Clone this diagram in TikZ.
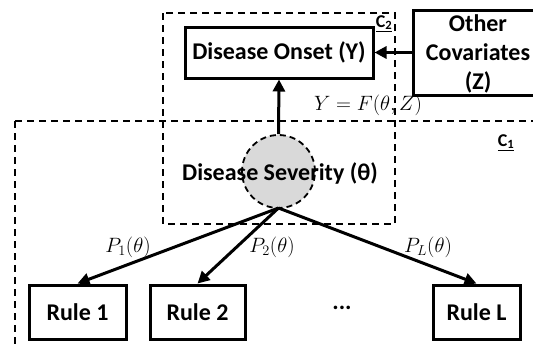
\documentclass[tikz,border=0pt]{standalone}
\usepackage{fontspec}
\setmainfont{Carlito}
\usetikzlibrary{arrows.meta}
\begin{document}
\begin{tikzpicture}[x=1pt,y=-1pt,
  every node/.style={font=\bfseries\fontsize{24}{28}\selectfont},
  box/.style={draw, line width=3pt, rectangle, inner sep=0pt, align=center},
  region/.style={draw, dashed, line width=1.6pt, dash pattern=on 7pt off 5pt},
  link/.style={line width=3pt, -{Triangle[length=12pt,width=12pt]}},
  lbl/.style={font=\fontsize{20}{24}\selectfont},
  platelbl/.style={font=\bfseries\fontsize{18}{20}\selectfont, anchor=base}
]
\useasboundingbox (0,0) rectangle (533,346);
\begin{scope}
\clip (0,0) rectangle (533,346);
% outer plate C1 (runs off the right and bottom edges)
\draw[region] (15,121) -- (560,121);
\draw[region] (15,121) -- (15,360);
% inner plate C2
\draw[region] (163,13) rectangle (395,224);
\end{scope}

% latent severity
\node[draw, dashed, dash pattern=on 6pt off 4pt, line width=1.8pt, fill=black!15, circle,
      minimum size=73pt, inner sep=0pt] (sev) at (278.5,171.5) {};
\node (sevtxt) at (280,173) {Disease Severity (θ)};

% outcome and covariates
\node[box, minimum width=188pt, minimum height=51pt] (onset) at (279,52.5) {Disease Onset (Y)};
\node[box, minimum width=130pt, minimum height=85pt] (other) at (478,52.5) {};
\node[align=center, font=\bfseries\fontsize{24}{29}\selectfont] (othertxt) at (478,54) {Other\\Covariates\\(Z)};

% rules
\node[box, minimum width=97pt, minimum height=54pt] (r1) at (77.5,312) {Rule 1};
\node[box, minimum width=95pt, minimum height=54pt] (r2) at (197.5,312) {Rule 2};
\node[box, minimum width=87pt, minimum height=54pt] (rL) at (476.5,312) {Rule L};
\node (dots) at (342,308) {...};

% plate labels
\node[platelbl] (c2) at (384,27) {\underline{C\textsubscript{2}}};
\node[platelbl] (c1) at (506,146) {\underline{C\textsubscript{1}}};

% arrows
\draw[link] (sev.north) -- (onset.south);
\draw[link] (other.west) -- (onset.east);
\coordinate (fan) at (278.5,208);
\draw[link] (fan) -- (r1.north);
\draw[link] (fan) -- (r2.north);
\draw[link] (fan) -- (rL.north);

% equation labels
\node[lbl] (feq) at (368,105) {$Y=F(\theta, Z)$};
\node[lbl] (p1) at (128,247) {$P_1(\theta)$};
\node[lbl] (p2) at (272,247) {$P_2(\theta)$};
\node[lbl] (pL) at (428,247) {$P_L(\theta)$};
\end{tikzpicture}
\end{document}
